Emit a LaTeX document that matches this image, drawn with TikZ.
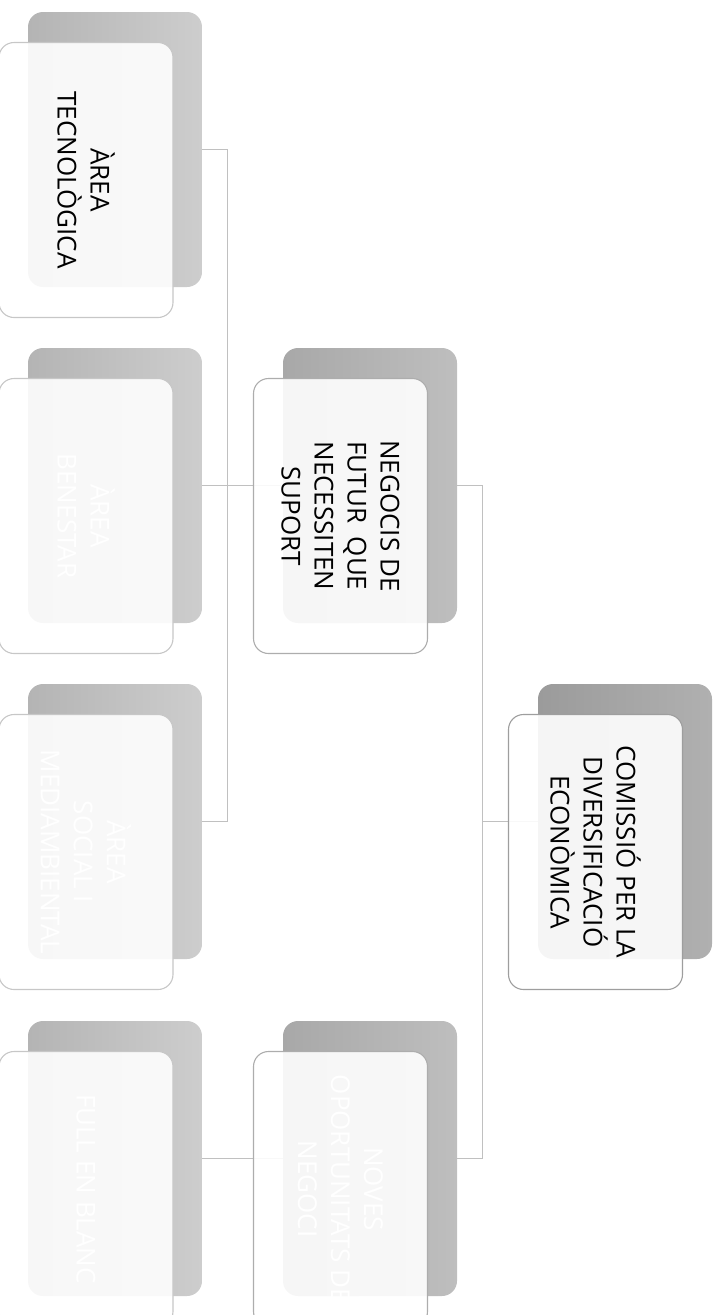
\documentclass[tikz,border=0pt]{standalone}
\usepackage{fontspec}
\setmainfont{Open Sans}
\definecolor{lthreeL}{HTML}{B4B4B4}
\definecolor{lthreeR}{HTML}{CDCDCD}
\definecolor{ltwoL}{HTML}{A8A8A8}
\definecolor{ltwoR}{HTML}{BEBEBE}
\definecolor{loneL}{HTML}{9B9B9B}
\definecolor{loneR}{HTML}{B0B0B0}
\definecolor{connc}{HTML}{C0C0C0}
\tikzset{
  backcard/.style={rectangle, rounded corners=15pt, minimum width=174pt, minimum height=275pt, inner sep=0pt, draw=none},
  bthree/.style={backcard, left color=lthreeL, right color=lthreeR},
  btwo/.style={backcard, left color=ltwoL, right color=ltwoR},
  bone/.style={backcard, left color=loneL, right color=loneR},
  frontcard/.style={rectangle, rounded corners=15pt, rotate=-90, minimum width=275pt, minimum height=174pt,
    inner sep=0pt, fill=white, fill opacity=0.9, text opacity=1, line width=1.1pt, align=center,
    font=\fontsize{26}{33}\selectfont},
  fthree/.style={frontcard, draw=black!22},
  ftwo/.style={frontcard, draw=black!32},
  fone/.style={frontcard, draw=black!38},
  conn/.style={draw=connc, line width=1.3pt},
}
\begin{document}
\begin{tikzpicture}[x=1pt,y=-1pt]
\path[use as bounding box, clip] (0,0) rectangle (719,1315);
% back cards
\node[bthree] (T1) at (115,149.5) {};
\node[bthree] (T2) at (115,485.5) {};
\node[bthree] (T3) at (115,821.5) {};
\node[bthree] (T4) at (115,1158.5) {};
\node[btwo] (M1) at (370,485.5) {};
\node[btwo] (M2) at (370,1158.5) {};
\node[bone] (R) at (625,821.5) {};
% connectors
\draw[conn] (R.west) -- ++(-55,0) |- (M1.east);
\draw[conn] (R.west) -- ++(-55,0) |- (M2.east);
\draw[conn] (M1.west) -- ++(-55,0) |- (T1.east);
\draw[conn] (M1.west) -- ++(-55,0) |- (T2.east);
\draw[conn] (M1.west) -- ++(-55,0) |- (T3.east);
\draw[conn] (M2.west) -- ++(-55,0) |- (T4.east);
% front cards
\node[fthree, text=black] (T1f) at (86,180) {ÀREA\\TECNOLÒGICA};
\node[fthree, text=white] (T2f) at (86,516) {ÀREA\\BENESTAR};
\node[fthree, text=white] (T3f) at (86,852) {ÀREA\\SOCIAL I\\MEDIAMBIENTAL};
\node[fthree, text=white] (T4f) at (86,1189) {FULL EN BLANC};
\node[ftwo, text=black] (M1f) at (340.5,516) {NEGOCIS DE\\FUTUR~~QUE\\NECESSITEN\\SUPORT};
\node[ftwo, text=white] (M2f) at (340.5,1189) {NOVES\\OPORTUNITATS DE\\NEGOCI};
\node[fone, text=black] (Rf) at (595.5,852) {COMISSIÓ PER LA\\DIVERSIFICACIÓ\\ECONÒMICA};
\end{tikzpicture}
\end{document}
